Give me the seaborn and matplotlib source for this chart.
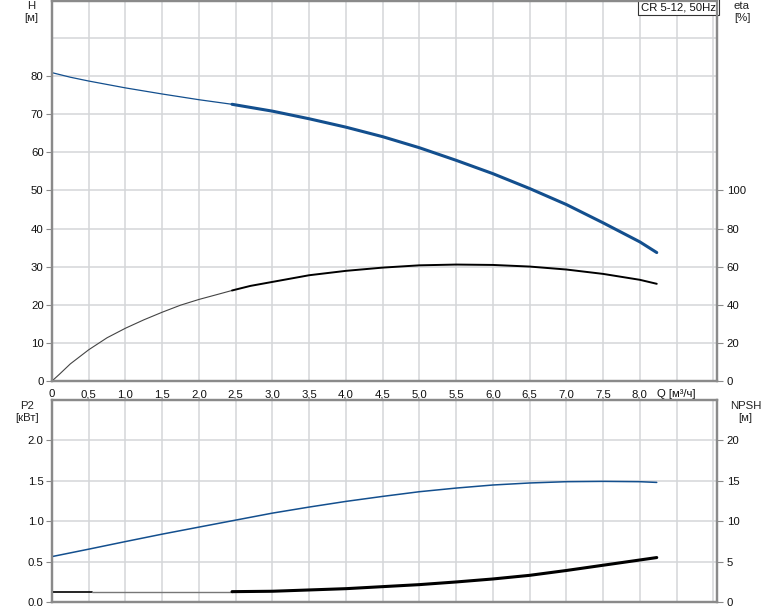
import matplotlib
matplotlib.use("Agg")
import matplotlib.pyplot as plt
import seaborn as sns
import pandas as pd

sns.set_theme(style="white")
plt.rcParams['font.family'] = ['Liberation Sans', 'DejaVu Sans']

# ---- data ----
q = [0, 0.25, 0.5, 1.0, 1.5, 2.0, 2.45, 3.0, 3.5, 4.0, 4.5, 5.0, 5.5, 6.0, 6.5, 7.0, 7.5, 8.0, 8.23]
head = [80.9, 79.7, 78.7, 76.9, 75.3, 73.8, 72.6, 70.8, 68.8, 66.6, 64.1, 61.2, 57.9, 54.4, 50.5, 46.3, 41.5, 36.5, 33.7]
p2 = [0.562, 0.608, 0.654, 0.748, 0.84, 0.927, 1.005, 1.10, 1.175, 1.245, 1.307, 1.365, 1.41, 1.448, 1.473, 1.489, 1.493, 1.489, 1.48]
q_eta = [0, 0.1, 0.25, 0.5, 0.75, 1.0, 1.25, 1.5, 1.75, 2.0, 2.25, 2.45, 2.7, 3.0, 3.5, 4.0, 4.5,
         5.0, 5.5, 6.0, 6.5, 7.0, 7.5, 8.0, 8.23]
eta = [0, 3.5, 9.0, 16.4, 22.7, 27.7, 32.1, 36.1, 39.8, 42.8, 45.4, 47.5, 49.9, 52.0, 55.5, 57.8, 59.5,
       60.7, 61.1, 60.9, 60.05, 58.5, 56.2, 53.1, 51.0]
q_npsh = [0, 0.55, 2.45, 3.0, 3.5, 4.0, 4.5, 5.0, 5.5, 6.0, 6.5, 7.0, 7.5, 8.0, 8.23]
npsh = [1.28, 1.28, 1.28, 1.33, 1.49, 1.65, 1.90, 2.15, 2.48, 2.85, 3.3, 3.9, 4.55, 5.2, 5.5]
q_split = 2.45

x_ticks = [0, 0.5, 1.0, 1.5, 2.0, 2.5, 3.0, 3.5, 4.0, 4.5, 5.0, 5.5, 6.0, 6.5, 7.0, 7.5, 8.0, 8.5, 9.0]
x_labels = ["0", "0,5", "1,0", "1,5", "2,0", "2,5", "3,0", "3,5", "4,0", "4,5", "5,0", "5,5",
            "6,0", "6,5", "7,0", "7,5", "8,0", "Q [м³/ч]", ""]
h_ticks = [0, 10, 20, 30, 40, 50, 60, 70, 80]
h_extra_grid = [90]
eta_ticks = [0, 20, 40, 60, 80, 100]
p2_ticks = [0.0, 0.5, 1.0, 1.5, 2.0]
p2_labels = ["0.0", "0.5", "1.0", "1.5", "2.0"]
npsh_ticks = [0, 5, 10, 15, 20]
title_box = "CR 5-12, 50Hz"

df = pd.DataFrame({"q": q, "head": head, "p2": p2})
de = pd.DataFrame({"q": q_eta, "eta": eta})
dn = pd.DataFrame({"q": q_npsh, "npsh": npsh})

BLUE = "#134f8e"
SPINE = "#8a8a8a"
GRID = "#d4d6d8"
FS = 8.2

W, H = 774, 611
fig = plt.figure(figsize=(W / 100, H / 100), dpi=100)
fig.patch.set_facecolor("white")

def frac(l, t, r, b):
    return [l / W, 1 - b / H, (r - l) / W, (b - t) / H]

ax1 = fig.add_axes(frac(52, 1, 717, 381))
ax2 = fig.add_axes(frac(52, 400, 717, 602))

def style(ax):
    ax.set_facecolor("white")
    for s in ax.spines.values():
        s.set_color(SPINE)
        s.set_linewidth(1.6)
    ax.grid(True, which="both", color=GRID, linewidth=1.1)
    ax.set_axisbelow(True)
    ax.tick_params(axis="both", which="major", direction="out", length=4, width=0.8,
                   color=SPINE, labelsize=FS, labelcolor="#111111", pad=2)
    ax.tick_params(axis="both", which="minor", length=0)
    ax.set_xlabel("")
    ax.set_ylabel("")

def style_right(ax):
    for s in ax.spines.values():
        s.set_color(SPINE)
        s.set_linewidth(1.6)
    ax.tick_params(axis="y", direction="out", length=4, width=0.8, color=SPINE,
                   labelsize=FS, labelcolor="#111111", pad=3)
    ax.set_ylabel("")
    ax.grid(False)

# ---------- top panel ----------
thin = df[df.q <= q_split]
thick = df[df.q >= q_split]
sns.lineplot(data=thin, x="q", y="head", ax=ax1, color=BLUE, linewidth=0.9, sort=False)
sns.lineplot(data=thick, x="q", y="head", ax=ax1, color=BLUE, linewidth=2.2, sort=False)
ax1.set_xlim(0, 9.05)
ax1.set_ylim(0, 99.7)
ax1.set_xticks(x_ticks)
ax1.set_xticklabels(x_labels)
ax1.set_yticks(h_ticks)
ax1.set_yticks(h_extra_grid, minor=True)
style(ax1)

ax1r = ax1.twinx()
e_thin = de[de.q <= q_split]
e_thick = de[de.q >= q_split]
sns.lineplot(data=e_thin, x="q", y="eta", ax=ax1r, color="#444444", linewidth=0.8, sort=False)
sns.lineplot(data=e_thick, x="q", y="eta", ax=ax1r, color="black", linewidth=1.4, sort=False)
ax1r.set_ylim(0, 199.4)
ax1r.set_yticks(eta_ticks)
ax1r.set_xlim(0, 9.05)
style_right(ax1r)

ax1.text(0.9985, 0.997, title_box, transform=ax1.transAxes, ha="right", va="top",
         fontsize=FS, color="#111111",
         bbox=dict(boxstyle="square,pad=0.25", facecolor="white", edgecolor="#333333", linewidth=0.8),
         zorder=10)

# ---------- bottom panel ----------
sns.lineplot(data=df, x="q", y="p2", ax=ax2, color=BLUE, linewidth=1.1, sort=False)
ax2.set_xlim(0, 9.05)
ax2.set_ylim(0, 2.5)
ax2.set_xticks(x_ticks)
ax2.set_xticklabels([])
ax2.set_yticks(p2_ticks)
ax2.set_yticklabels(p2_labels)
style(ax2)

ax2r = ax2.twinx()
n_a = dn[dn.q <= 0.55]
n_b = dn[(dn.q >= 0.55) & (dn.q <= q_split)]
n_c = dn[dn.q >= q_split]
sns.lineplot(data=n_a, x="q", y="npsh", ax=ax2r, color="black", linewidth=1.2, sort=False)
sns.lineplot(data=n_b, x="q", y="npsh", ax=ax2r, color="#777777", linewidth=1.0, sort=False)
sns.lineplot(data=n_c, x="q", y="npsh", ax=ax2r, color="black", linewidth=2.2, sort=False)
ax2r.set_ylim(0, 25)
ax2r.set_xlim(0, 9.05)
ax2r.set_yticks(npsh_ticks)
style_right(ax2r)

# ---------- axis name labels ----------
def lab(x, y, s):
    fig.text(x / W, 1 - y / H, s, ha="center", va="center", fontsize=FS, color="#222222")

lab(31, 6, "H")
lab(31, 18, "[м]")
lab(742, 6, "eta")
lab(742, 18, "[%]")
lab(27, 406, "P2")
lab(27, 418, "[кВт]")
lab(746, 406, "NPSH")
lab(745, 418, "[м]")

fig.savefig("out.png", dpi=100, facecolor="white")
